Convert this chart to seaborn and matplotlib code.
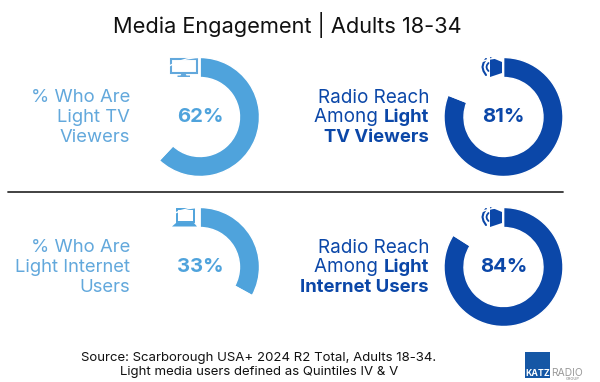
#!/usr/bin/env python3
import matplotlib
matplotlib.use("Agg")
import matplotlib.pyplot as plt
from matplotlib.patches import Rectangle, Polygon
import seaborn as sns

TITLE = "Media Engagement | Adults 18-34"
SOURCE = ["Source: Scarborough USA+ 2024 R2 Total, Adults 18-34.",
          "Light media users defined as Quintiles IV & V"]
values = [62, 81, 33, 84]
value_labels = ["62%", "81%", "33%", "84%"]
centers_x = [200, 503.5, 200, 503.5]
centers_y = [117, 117, 267, 267]

LIGHT = "#4fa3dc"
LIGHT_TXT = "#62a8dc"
DARK = "#0b47a8"
W, H = 600, 382

sns.set_theme(style="white")
plt.rcParams['font.family'] = ['Inter', 'DejaVu Sans']

fig = plt.figure(figsize=(W / 100, H / 100), dpi=100)
bg = fig.add_axes([0, 0, 1, 1])
bg.set_xlim(0, W)
bg.set_ylim(H, 0)
bg.axis("off")


def donut(cx, cy, val, label, color):
    r = 59.5
    ax = fig.add_axes([(cx - r) / W, 1 - (cy + r) / H, 2 * r / W, 2 * r / H])
    ax.pie([val, 100 - val], colors=[color, "none"], startangle=90,
           counterclock=False, radius=1, wedgeprops=dict(width=20 / 59.5))
    ax.set_xlim(-1, 1)
    ax.set_ylim(-1, 1)
    ax.text(0, 0, label, ha="center", va="center", color=color,
            fontsize=14.6, fontweight="bold")


colors = [LIGHT, DARK, LIGHT, DARK]
for cx, cy, v, lab, c in zip(centers_x, centers_y, values, value_labels, colors):
    donut(cx, cy, v, lab, c)

# title, divider, source
bg.text(287.5, 25, TITLE, ha="center", va="center", fontsize=15.7, color="#111111")
bg.plot([8, 563], [191.5, 191.5], color="#333333", lw=1.3)
bg.text(258.5, 357.5, SOURCE[0], ha="center", va="center", fontsize=9.5, color="#111111")
bg.text(259.5, 372, SOURCE[1], ha="center", va="center", fontsize=9.5, color="#111111")

# left labels
FS = 13.3
for y0, lines in [(98, ["% Who Are", "Light TV", "Viewers"]),
                  (248, ["% Who Are", "Light Internet", "Users"])]:
    for i, s in enumerate(lines):
        bg.text(130, y0 + i * 19.5, s, ha="right", va="center", fontsize=FS, color=LIGHT_TXT)


def mixed(y, plain, bold):
    t = bg.text(429, y, bold, ha="right", va="center", fontsize=FS, color=DARK, fontweight="bold")
    if plain:
        bg.annotate(plain, xy=(0, 0.5), xycoords=t, ha="right", va="center",
                    fontsize=FS + 0.3, color=DARK)


bg.text(429, 98, "Radio Reach", ha="right", va="center", fontsize=FS + 0.3, color=DARK)
mixed(117.5, "Among ", "Light")
mixed(137, "", "TV Viewers")
bg.text(429, 248, "Radio Reach", ha="right", va="center", fontsize=FS + 0.3, color=DARK)
mixed(267.5, "Among ", "Light")
mixed(287, "", "Internet Users")

# tv icon
bg.add_patch(Rectangle((171, 58.5), 25.5, 14.5, fill=False, ec=LIGHT_TXT, lw=1.5))
bg.add_patch(Polygon([(181.5, 73.5), (185.5, 73.5), (186.5, 75.5), (190, 75.5), (190, 77), (177.5, 77),
                      (177.5, 75.5), (180.5, 75.5)], fc=LIGHT_TXT, ec="none"))
# laptop icon
bg.add_patch(Rectangle((176.5, 208.5), 17.5, 13, fill=False, ec=LIGHT, lw=1.4))
bg.add_patch(Polygon([(176, 223), (194, 223), (197, 226.5), (172, 226.5)], fc=LIGHT, ec="none"))


# speaker icons
def speaker(y):
    bg.add_patch(Polygon([(490, y - 10), (502, y - 5), (502, y + 6), (490, y + 10)], fc=DARK, ec="none"))
    bg.plot([488.5, 487, 486.5, 487, 488.5], [y - 4, y - 2, y, y + 2, y + 4], color=DARK, lw=1.3)
    bg.plot([486, 483.5, 482.5, 483.5, 486], [y - 8, y - 4, y, y + 4, y + 8], color=DARK, lw=1.5)


speaker(67)
speaker(217)

# logo
bg.add_patch(Rectangle((525, 352), 25, 26, fc="#1557a5", ec="none"))
bg.text(537.5, 373, "KATZ", ha="center", va="center", fontsize=6.3, color="white", fontweight="bold")
bg.text(551, 373, "RADIO", ha="left", va="center", fontsize=7.4, color="#9a9a9a")
bg.text(573, 379, "GROUP", ha="center", va="center", fontsize=2.8, color="#777777")

fig.savefig("out.png", dpi=100)
